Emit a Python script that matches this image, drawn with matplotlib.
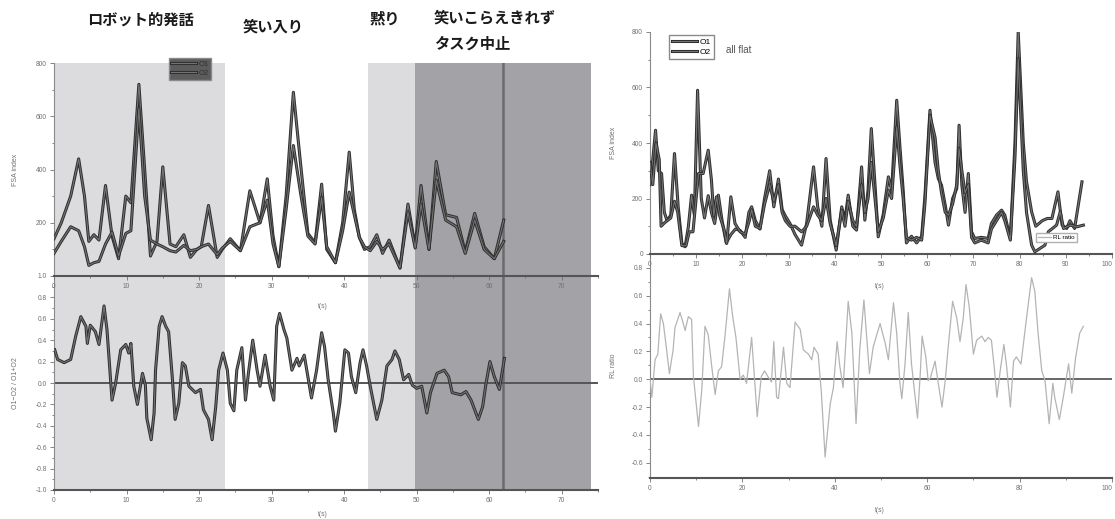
# FSA index / ratio time series, two recordings side by side
import matplotlib
matplotlib.use('Agg')
import matplotlib.pyplot as plt
import matplotlib.patheffects as pe
from matplotlib.ticker import MultipleLocator, FormatStrFormatter

# ---- left recording: FSA index of O1 / O2 ----
t_left = [0, 1, 2.3, 3.4, 4.2, 4.8, 5.5, 6.2, 7.1, 8.0, 8.9, 9.9, 10.6, 11.7, 12.5,
          13.3, 14.2, 15.0, 16.0, 16.8, 17.9, 18.8, 19.7, 20.3, 21.3, 22.5, 23.2,
          24.3, 25.7, 27.0, 28.4, 29.4, 30.2, 31.0, 32.0, 33.0, 34.0, 35.0, 36.0,
          36.9, 37.6, 38.8, 39.8, 40.7, 41.4, 42.1, 42.8, 43.6, 44.5, 45.3, 46.2,
          47.7, 48.8, 49.8, 50.6, 51.7, 52.7, 54.0, 55.5, 56.7, 58.0, 59.3, 60.7, 62.0]
o1_left = [140, 200, 300, 440, 300, 130, 155, 135, 340, 150, 65, 300, 275, 720, 400,
           75, 130, 410, 120, 110, 155, 70, 100, 110, 265, 70, 100,
           140, 95, 320, 200, 365, 150, 35, 300, 690, 420, 160, 125,
           345, 100, 50, 200, 465, 250, 145, 100, 110, 155, 85, 135,
           30, 270, 110, 340, 100, 430, 230, 220, 90, 235, 110, 65, 210]
o2_left = [85, 130, 185, 170, 110, 40, 50, 55, 120, 165, 75, 160, 170, 630, 300,
           135, 120, 110, 95, 90, 115, 95, 100, 110, 120, 80, 105,
           130, 95, 185, 200, 285, 120, 35, 250, 490, 310, 150, 120,
           295, 110, 50, 170, 315, 230, 145, 110, 95, 130, 100, 120,
           30, 240, 105, 270, 100, 360, 210, 185, 85, 210, 100, 65, 130]

# (O1-O2)/(O1+O2)
t_ratio = [0.1, 0.5, 1.4, 2.3, 3.0, 3.7, 4.4, 4.6, 5.0, 5.7, 6.2, 6.9, 7.3, 7.6, 8.0,
           8.5, 9.2, 9.9, 10.3, 10.6, 11.0, 11.5, 12.2, 12.6, 12.8, 13.4, 13.8, 14.0,
           14.5, 14.9, 15.4, 15.8, 16.3, 16.7, 17.2, 17.7, 18.1, 18.6, 19.5, 20.2,
           20.6, 21.3, 21.8, 22.3, 22.7, 23.3, 23.9, 24.3, 24.8, 25.2, 25.9, 26.4,
           26.8, 27.4, 28.0, 28.4, 29.1, 29.8, 30.3, 30.7, 31.1, 31.7, 32.1, 32.8,
           33.5, 33.8, 34.5, 35.0, 35.5, 36.2, 36.9, 37.3, 37.8, 38.5, 38.8, 39.4,
           40.1, 40.6, 41.0, 41.6, 42.2, 42.6, 43.1, 43.6, 44.5, 45.2, 45.9, 46.6,
           47.0, 47.6, 48.2, 48.9, 49.4, 50.0, 50.7, 51.4, 51.9, 52.8, 53.8, 54.4,
           54.9, 56.1, 56.8, 57.5, 58.5, 59.1, 59.5, 60.1, 60.7, 61.4, 62.1]
ratio_left = [0.31, 0.22, 0.19, 0.22, 0.44, 0.62, 0.53, 0.37, 0.54, 0.48, 0.36, 0.72, 0.50, 0.22, -0.16,
              0.0, 0.31, 0.36, 0.28, 0.37, -0.03, -0.20, 0.09, -0.02, -0.33, -0.53, -0.28, 0.12,
              0.53, 0.62, 0.53, 0.48, 0.06, -0.34, -0.19, 0.19, 0.16, -0.03, -0.09, -0.06,
              -0.25, -0.34, -0.53, -0.22, 0.12, 0.28, 0.12, -0.19, -0.26, 0.12, 0.33, -0.16,
              0.09, 0.40, 0.12, -0.03, 0.26, -0.03, -0.16, 0.53, 0.65, 0.50, 0.42, 0.12,
              0.23, 0.16, 0.26, 0.06, -0.14, 0.12, 0.47, 0.34, 0.03, -0.28, -0.45, -0.19,
              0.31, 0.28, 0.06, -0.09, 0.19, 0.31, 0.16, -0.03, -0.34, -0.16, 0.16, 0.22,
              0.30, 0.22, 0.03, 0.08, -0.02, -0.05, -0.03, -0.28, -0.09, 0.09, 0.12, 0.06,
              -0.09, -0.11, -0.08, -0.16, -0.34, -0.22, -0.03, 0.20, 0.06, -0.06, 0.23]

# ---- right recording ("all flat") ----
t_o1_right = [0, 0.6, 1.2, 1.8, 2.5, 3.1, 3.7, 4.5, 5.3, 6.1, 6.9, 7.6, 8.3, 9.0, 9.6,
              10.3, 11.1, 11.8, 12.6, 13.3, 14.0, 14.8, 15.6, 16.5, 17.5, 18.5, 19.5,
              20.6, 21.4, 22.0, 22.8, 23.8, 24.8, 25.9, 26.8, 27.8, 28.6, 29.3, 30.3,
              31.4, 32.8, 33.9, 35.4, 36.3, 37.2, 38.1, 39.0, 40.3, 41.5, 42.2, 42.9,
              43.9, 44.7, 45.8, 46.5, 47.2, 47.9, 48.7, 49.4, 50.5, 51.6, 52.3, 53.4,
              54.1, 54.8, 55.5, 56.6, 57.7, 58.8, 59.5, 60.6, 61.7, 62.4, 63.1, 63.9,
              64.6, 65.5, 66.4, 66.9, 67.5, 68.2, 68.9, 69.6, 70.3, 71.7, 73.2, 73.9,
              75.0, 76.1, 76.8, 78.0, 79.0, 79.7, 80.8, 81.5, 82.6, 83.5, 84.9, 86.0,
              87.0, 88.3, 89.2, 90.2, 90.9, 91.9, 93.5]
o1_right = [250, 340, 446, 300, 290, 150, 120, 140, 362, 170, 38, 26, 98, 212, 140,
            590, 200, 130, 210, 150, 110, 212, 120, 40, 70, 90, 85,
            60, 150, 170, 120, 90, 200, 300, 170, 270, 160, 137, 110,
            70, 32, 110, 314, 170, 100, 344, 122, 14, 170, 122, 212,
            100, 86, 314, 122, 230, 452, 250, 62, 144, 278, 230, 554,
            386, 230, 40, 64, 40, 64, 206, 518, 330, 272, 248, 176,
            104, 200, 236, 464, 248, 150, 290, 80, 56, 60, 56, 110,
            140, 158, 140, 56, 400, 800, 400, 260, 152, 100, 120, 128,
            128, 224, 104, 92, 120, 92, 260]
t_o2_right = [0, 0.6, 1.3, 2.0, 2.4, 3.0, 3.7, 4.5, 5.3, 6.0, 6.9, 7.8, 8.5, 9.3, 10.5,
              11.5, 12.6, 13.3, 13.8, 14.4, 15.1, 16.0, 16.6, 17.5, 18.4, 19.5, 20.6,
              21.5, 22.0, 22.8, 23.8, 24.8, 25.9, 26.8, 27.8, 28.6, 29.3, 30.3, 31.4,
              32.8, 33.9, 35.4, 36.3, 37.2, 38.1, 39.0, 40.3, 41.5, 42.2, 42.9, 43.9,
              44.7, 45.8, 46.5, 47.2, 47.9, 48.7, 49.4, 50.5, 51.6, 52.3, 53.4, 54.1,
              54.8, 55.5, 56.6, 57.7, 58.8, 59.5, 60.6, 61.7, 62.4, 63.1, 63.9, 64.6,
              65.5, 66.4, 66.9, 67.5, 68.2, 68.9, 69.6, 70.3, 71.7, 73.2, 73.9, 75.0,
              76.1, 76.8, 78.0, 79.0, 79.7, 80.8, 81.5, 82.6, 83.3, 85.5, 86.2, 88.0,
              88.8, 89.5, 91.0, 92.4, 93.8]
o2_right = [330, 250, 400, 340, 100, 110, 120, 130, 190, 150, 30, 30, 80, 80, 290,
            290, 374, 266, 137, 206, 137, 90, 38, 206, 110, 80, 72,
            120, 160, 100, 92, 180, 250, 190, 250, 150, 120, 100, 100,
            80, 100, 170, 140, 120, 200, 110, 30, 158, 100, 190, 120,
            100, 250, 150, 200, 330, 200, 80, 130, 230, 200, 458, 320,
            200, 60, 50, 60, 50, 180, 500, 420, 300, 220, 150, 140,
            180, 250, 380, 300, 220, 250, 60, 40, 50, 40, 90, 120,
            150, 120, 50, 350, 704, 300, 150, 32, 8, 32, 80, 104,
            152, 92, 104, 98, 104]

t_rl = [0.0, 0.4, 1.1, 1.7, 2.3, 2.9, 3.6, 4.2, 5.0, 5.4, 6.5, 7.2, 7.6, 8.3, 9.0,
        9.4, 10.5, 11.2, 11.9, 12.6, 13.3, 14.1, 14.8, 15.5, 16.2, 17.2, 17.9, 18.6,
        19.5, 20.2, 20.9, 22.0, 22.7, 23.2, 24.1, 24.8, 25.5, 26.3, 26.8, 27.4, 27.8,
        28.9, 29.6, 30.3, 31.4, 32.5, 33.2, 34.3, 35.0, 35.5, 36.4, 37.1, 37.9, 39.0,
        39.7, 40.5, 41.1, 41.8, 42.5, 42.9, 43.7, 44.6, 45.4, 46.3, 47.5, 48.3, 49.8,
        50.9, 51.6, 52.7, 53.4, 54.1, 54.5, 55.2, 55.9, 56.6, 57.4, 57.9, 58.5, 58.9,
        59.7, 60.2, 60.7, 61.7, 62.4, 63.2, 63.9, 64.6, 65.5, 66.4, 67.1, 67.8, 68.4,
        69.1, 70.0, 70.7, 71.8, 72.5, 73.2, 73.9, 74.5, 75.1, 75.8, 76.6, 77.2, 78.0,
        78.7, 79.3, 80.3, 81.5, 82.6, 83.3, 84.0, 84.8, 85.5, 86.4, 87.2, 87.6, 88.6,
        89.6, 90.6, 91.3, 92.1, 93.0, 93.8]
rl_ratio = [0.0, -0.13, 0.14, 0.18, 0.47, 0.40, 0.21, 0.04, 0.21, 0.37, 0.48, 0.40, 0.35, 0.45, 0.43,
            0.02, -0.34, -0.08, 0.38, 0.32, 0.11, -0.11, 0.06, 0.09, 0.30, 0.65, 0.45, 0.30,
            0.0, 0.03, -0.03, 0.30, -0.03, -0.27, 0.02, 0.06, 0.02, -0.02, 0.27, -0.13, -0.14,
            0.23, -0.03, -0.06, 0.41, 0.36, 0.21, 0.18, 0.14, 0.23, 0.18, -0.10, -0.56, -0.18,
            -0.06, 0.27, 0.09, -0.06, 0.33, 0.56, 0.33, -0.32, 0.21, 0.57, 0.04, 0.23, 0.40,
            0.26, 0.14, 0.55, 0.33, -0.03, -0.14, 0.11, 0.48, 0.11, -0.13, -0.28, 0.04, 0.31,
            0.16, -0.01, 0.01, 0.13, -0.03, -0.20, -0.01, 0.25, 0.56, 0.44, 0.27, 0.44, 0.68,
            0.52, 0.18, 0.28, 0.31, 0.27, 0.30, 0.28, 0.09, -0.13, 0.06, 0.25, 0.09, -0.20,
            0.13, 0.16, 0.11, 0.44, 0.73, 0.63, 0.33, 0.06, -0.01, -0.32, -0.03, -0.13, -0.29,
            -0.10, 0.11, -0.10, 0.15, 0.33, 0.38]

# phases of the left recording (start, end, colour)
phases = [(0, 23.6, '#dcdcde'), (43.3, 49.8, '#dcdcde'), (49.8, 74.0, '#a3a3a7')]
stop_time = 61.9

phase_titles = [('ロボット的発話', 140, 20), ('笑い入り', 273, 27), ('黙り', 385, 19)]

W, H = 1115, 519
TICK = '#707070'
JP = ['Noto Sans CJK JP', 'DejaVu Sans']
# hollow-looking dark trace, like the blurred original
HOLLOW = [pe.Stroke(linewidth=2.2, foreground='#2e2e2e'), pe.Normal()]

plt.rcParams['font.family'] = ['Liberation Sans', 'DejaVu Sans']
fig = plt.figure(figsize=(W / 100, H / 100), dpi=100)
fig.patch.set_facecolor('white')


def add_axes_px(x0, y0, x1, y1):
    return fig.add_axes([x0 / W, 1 - y1 / H, (x1 - x0) / W, (y1 - y0) / H])


def style_axes(ax, xmaj, xmin, ymaj, ymin, yfmt):
    ax.set_facecolor('none')
    for s in ['top', 'right']:
        ax.spines[s].set_visible(False)
    ax.spines['left'].set_color('#8a8a8a')
    ax.spines['left'].set_linewidth(0.8)
    ax.spines['bottom'].set_color('#555555')
    ax.spines['bottom'].set_linewidth(1.5)
    ax.xaxis.set_major_locator(MultipleLocator(xmaj))
    ax.xaxis.set_minor_locator(MultipleLocator(xmin))
    ax.yaxis.set_major_locator(MultipleLocator(ymaj))
    ax.yaxis.set_minor_locator(MultipleLocator(ymin))
    ax.yaxis.set_major_formatter(FormatStrFormatter(yfmt))
    ax.tick_params(which='both', direction='out', labelsize=4.8,
                   colors=TICK, width=0.6, pad=2)
    ax.tick_params(which='major', length=3)
    ax.tick_params(which='minor', length=1.5)


def trace(ax, t, v, label=None):
    line, = ax.plot(t, v, color='#737373', lw=0.8, label=label, zorder=3,
                    solid_joinstyle='round', path_effects=HOLLOW)
    return line


# ---------- left, lower: ratio ----------
ax_lr = add_axes_px(54, 276, 598, 490)
style_axes(ax_lr, 10, 5, 0.2, 0.1, '%.1f')
for a, b, c in phases:
    ax_lr.axvspan(a, b, color=c, lw=0, zorder=0)
ax_lr.axvline(stop_time, color='#6a6a6e', lw=1.8, zorder=1)
ax_lr.axhline(0, color='#555555', lw=1.4, zorder=2)
trace(ax_lr, t_ratio, ratio_left)
ax_lr.set_xlim(0, 75)
ax_lr.set_ylim(-1.0, 1.0)
ax_lr.set_ylabel('O1−O2 / O1+O2', fontsize=5, color=TICK)
ax_lr.yaxis.set_label_coords(-0.065, 0.5)
ax_lr.set_xlabel('t(s)', fontsize=4.8, color=TICK)
ax_lr.xaxis.set_label_coords(0.494, -0.1)

# ---------- left, upper: FSA index ----------
ax_lu = add_axes_px(54, 63, 598, 276)
style_axes(ax_lu, 10, 5, 200, 100, '%d')
for a, b, c in phases:
    ax_lu.axvspan(a, b, color=c, lw=0, zorder=0)
ax_lu.axvline(stop_time, color='#6a6a6e', lw=1.8, zorder=1)
trace(ax_lu, t_left, o1_left, 'O1')
trace(ax_lu, t_left, o2_left, 'O2')
ax_lu.set_xlim(0, 75)
ax_lu.set_ylim(0, 800)
ax_lu.set_yticks([200, 400, 600, 800])
ax_lu.set_ylabel('FSA index', fontsize=5, color=TICK)
ax_lu.yaxis.set_label_coords(-0.065, 0.5)
ax_lu.set_xlabel('t(s)', fontsize=4.8, color=TICK)
ax_lu.xaxis.set_label_coords(0.494, -0.125)
leg = ax_lu.legend(loc='upper left', bbox_to_anchor=(165 / W, 1 - 54 / H),
                   bbox_transform=fig.transFigure, fontsize=5.5, frameon=True,
                   facecolor='#5c5c5c', edgecolor='#8a8a8a', framealpha=1,
                   fancybox=False, handlelength=3.2, borderpad=0.35,
                   labelspacing=0.25, handletextpad=0.3)
for txt in leg.get_texts():
    txt.set_color('#333333')

# phase titles
for label, x, y in phase_titles:
    fig.text(x / W, 1 - y / H, label, fontsize=11, fontweight='bold',
             family=JP, ha='center', va='center', color='#1a1a1a')
fig.text(434 / W, 1 - 17 / H, '笑いこらえきれず', fontsize=11, fontweight='bold',
         family=JP, ha='left', va='center', color='#1a1a1a')
fig.text(434 / W, 1 - 44 / H, 'タスク中止', fontsize=11, fontweight='bold',
         family=JP, ha='left', va='center', color='#1a1a1a')

# ---------- right, lower: RL ratio ----------
ax_rr = add_axes_px(650, 254, 1112, 478)
style_axes(ax_rr, 20, 10, 0.2, 0.1, '%.1f')
ax_rr.axhline(0, color='#666666', lw=1.4, zorder=2)
rl_line, = ax_rr.plot(t_rl, rl_ratio, color='#b4b4b4', lw=0.9, zorder=3, label='RL ratio')
ax_rr.set_xlim(0, 100)
ax_rr.set_ylim(-0.71, 0.9)
ax_rr.set_xticks(range(0, 101, 20))
ax_rr.set_yticks([-0.6, -0.4, -0.2, 0.0, 0.2, 0.4, 0.6, 0.8])
ax_rr.set_ylabel('RL ratio', fontsize=5, color=TICK)
ax_rr.yaxis.set_label_coords(-0.071, 0.5)
ax_rr.set_xlabel('t(s)', fontsize=4.8, color=TICK)
ax_rr.xaxis.set_label_coords(0.498, -0.13)

# ---------- right, upper: FSA index ----------
ax_ru = add_axes_px(650, 32, 1112, 254)
style_axes(ax_ru, 10, 5, 200, 100, '%d')
trace(ax_ru, t_o1_right, o1_right, 'O1')
trace(ax_ru, t_o2_right, o2_right, 'O2')
ax_ru.set_xlim(0, 100)
ax_ru.set_ylim(0, 800)
ax_ru.set_xticks(range(0, 101, 10))
ax_ru.set_ylabel('FSA index', fontsize=5, color=TICK)
ax_ru.yaxis.set_label_coords(-0.071, 0.5)
ax_ru.set_xlabel('t(s)', fontsize=4.8, color=TICK)
ax_ru.xaxis.set_label_coords(0.498, -0.13)
ax_ru.legend(loc='upper left', bbox_to_anchor=(665 / W, 1 - 31 / H),
             bbox_transform=fig.transFigure, fontsize=6, frameon=True,
             facecolor='white', edgecolor='#8a8a8a', framealpha=1,
             fancybox=False, handlelength=3.0, borderpad=0.35,
             labelspacing=0.3, handletextpad=0.3)
fig.text(726 / W, 1 - 50 / H, 'all flat', fontsize=7, color='#555555',
         ha='left', va='center')
fig.legend(handles=[rl_line], loc='upper left',
           bbox_to_anchor=(1033 / W, 1 - 230 / H), fontsize=4.5, frameon=True,
           facecolor='white', edgecolor='#b0b0b0', framealpha=1,
           fancybox=False, handlelength=2.2, borderpad=0.25, handletextpad=0.3)

# keep the last "100" label inside the canvas
for ax in (ax_ru, ax_rr):
    ax.get_xticklabels()[-1].set_horizontalalignment('right')

fig.savefig('out.png', dpi=100)
